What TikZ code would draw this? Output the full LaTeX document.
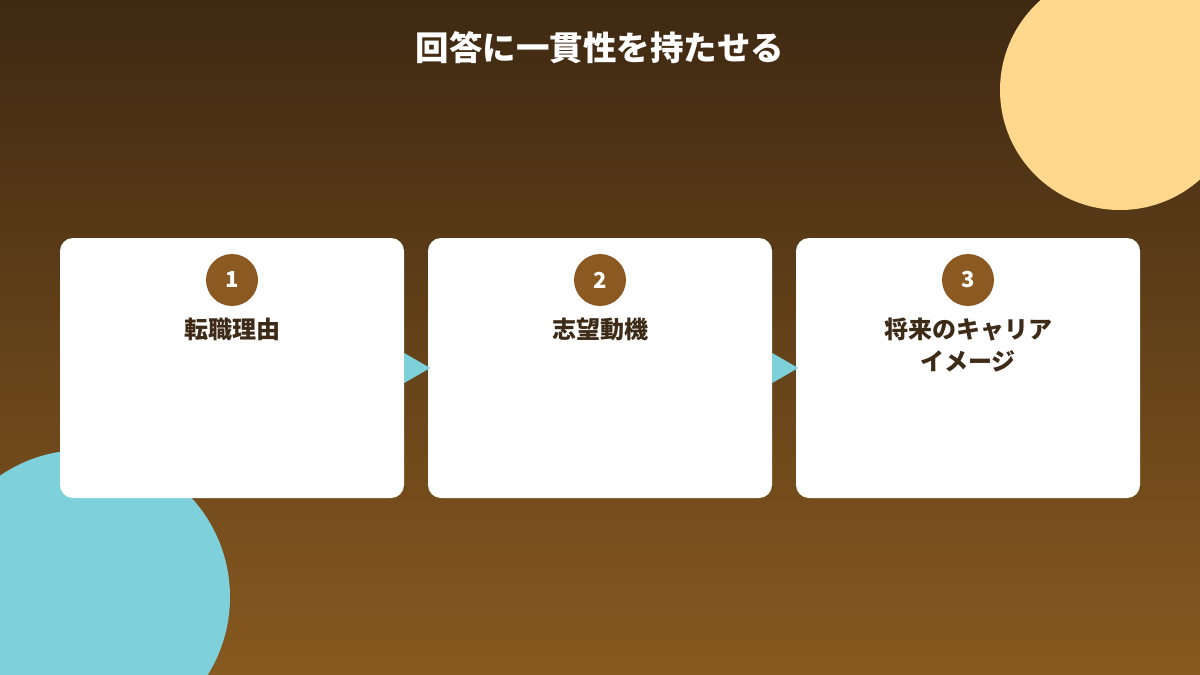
\documentclass[tikz,border=0pt]{standalone}
\usepackage{fontspec}
\setmainfont{Noto Sans CJK JP}
\usetikzlibrary{shapes.geometric}
\definecolor{bgtop}{RGB}{62,41,18}
\definecolor{bgbot}{RGB}{136,89,32}
\definecolor{sun}{RGB}{255,216,142}
\definecolor{aqua}{RGB}{126,209,218}
\definecolor{badge}{RGB}{139,90,34}
\definecolor{ink}{RGB}{61,42,23}
\tikzset{
  card/.style={fill=white,rounded corners=13pt,minimum width=344pt,minimum height=260pt,inner sep=0pt},
  numbadge/.style={circle,fill=badge,minimum size=52pt,inner sep=0pt,text=white,font=\fontsize{22}{26}\selectfont\bfseries},
  cardlabel/.style={text=ink,font=\fontsize{24}{32}\selectfont\bfseries,align=center,anchor=north,inner sep=0pt},
  flowarrow/.style={fill=aqua,draw=none},
}
\begin{document}
\begin{tikzpicture}[x=1pt,y=-1pt]
\useasboundingbox (0,0) rectangle (1200,675);
\shade[top color=bgtop,bottom color=bgbot] (0,0) rectangle (1200,675);
\fill[sun] (1120,90) circle (120);
\fill[aqua] (83,597) circle (147);
\node[text=white,font=\fontsize{33.5}{40}\selectfont\bfseries] (title) at (600,48) {回答に一貫性を持たせる};
\node[card] (c1) at (232,368) {};
\node[card] (c2) at (600,368) {};
\node[card] (c3) at (968,368) {};
\node[numbadge] (n1) at (232,280) {1};
\node[numbadge] (n2) at (600,280) {2};
\node[numbadge] (n3) at (968,280) {3};
\node[cardlabel] (l1) at (232,318) {転職理由};
\node[cardlabel] (l2) at (600,318) {志望動機};
\node[cardlabel] (l3) at (968,318) {将来のキャリア\\イメージ};
\coordinate (a1) at (c1.east);
\coordinate (a2) at (c2.east);
\fill[flowarrow] ([yshift=-15pt]a1) -- ([xshift=26pt]a1) -- ([yshift=15pt]a1) -- cycle;
\fill[flowarrow] ([yshift=-15pt]a2) -- ([xshift=26pt]a2) -- ([yshift=15pt]a2) -- cycle;
\end{tikzpicture}
\end{document}
